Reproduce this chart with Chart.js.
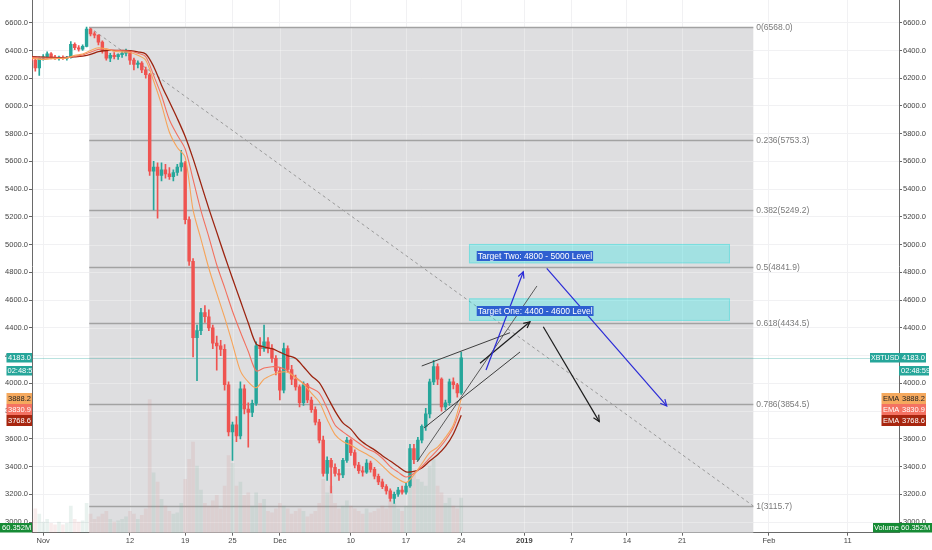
<!DOCTYPE html>
<html><head><meta charset="utf-8">
<script src="https://cdn.jsdelivr.net/npm/chart.js@4.4.1/dist/chart.umd.min.js"></script>
<style>html,body{margin:0;padding:0;background:#fff;overflow:hidden}#c{display:block}</style>
</head><body><canvas id="c" width="932" height="550"></canvas>
<script>
// x values are days since 2018-11-01 00:00 (XBTUSD, 12h candles)
const xTickDays   = [0,11,18,24,30,39,46,53,61,67,74,81,92,102];
const xTickLabels = ['Nov','12','19','25','Dec','10','17','24','2019','7','14','21','Feb','11'];
const yTickValues = [3000,3200,3400,3600,3800,4000,4200,4400,4600,4800,5000,5200,5400,5600,5800,6000,6200,6400,6600];

const candleDays = [
 -1.5,-1,-0.5,0,0.5,1,1.5,2,2.5,3,
 3.5,4,4.5,5,5.5,6,6.5,7,7.5,8,
 8.5,9,9.5,10,10.5,11,11.5,12,12.5,13,
 13.5,14,14.5,15,15.5,16,16.5,17,17.5,18,
 18.5,19,19.5,20,20.5,21,21.5,22,22.5,23,
 23.5,24,24.5,25,25.5,26,26.5,27,27.5,28,
 28.5,29,29.5,30,30.5,31,31.5,32,32.5,33,
 33.5,34,34.5,35,35.5,36,36.5,37,37.5,38,
 38.5,39,39.5,40,40.5,41,41.5,42,42.5,43,
 43.5,44,44.5,45,45.5,46,46.5,47,47.5,48,
 48.5,49,49.5,50,50.5,51,51.5,52,52.5,53];
const opens = [
 6345,6330,6275,6345,6355,6375,6350,6345,6350,6342,
 6350,6445,6420,6410,6430,6555,6520,6510,6460,6400,
 6345,6365,6355,6370,6380,6395,6330,6300,6310,6260,
 6225,5530,5560,5500,5540,5510,5490,5520,5560,5590,
 5180,4880,4330,4380,4510,4480,4400,4290,4270,4245,
 3990,3650,3700,3620,3960,3815,3790,3855,4270,4250,
 4300,4250,4180,4090,3950,4250,4100,4030,3975,3860,
 3990,3880,3810,3720,3590,3350,3445,3395,3350,3340,
 3445,3590,3500,3410,3370,3360,3425,3380,3330,3290,
 3255,3225,3170,3200,3230,3215,3260,3530,3450,3590,
 3690,3780,4010,4120,4030,3830,3860,4010,3990,3930];
const highs = [
 6365,6345,6355,6370,6390,6385,6365,6360,6362,6358,
 6465,6455,6435,6440,6568,6560,6535,6515,6470,6410,
 6380,6385,6375,6395,6410,6400,6345,6325,6320,6280,
 6235,5600,5590,5590,5580,5555,5540,5580,5680,5600,
 5200,4900,4420,4540,4560,4530,4420,4340,4310,4280,
 4010,3720,3760,4010,3990,3860,3880,4300,4330,4420,
 4330,4280,4200,4110,4290,4270,4130,4060,3990,4010,
 4000,3900,3830,3740,3620,3470,3460,3420,3380,3460,
 3610,3600,3520,3430,3400,3450,3440,3395,3345,3310,
 3270,3240,3215,3250,3260,3280,3560,3560,3610,3700,
 3820,4030,4165,4140,4040,3880,4030,4040,4000,4225];
const lows = [
 6310,6250,6220,6330,6345,6340,6335,6330,6335,6330,
 6345,6405,6395,6400,6425,6505,6490,6440,6380,6330,
 6320,6340,6335,6350,6360,6300,6260,6275,6240,6200,
 5500,5250,5190,5460,5480,5470,5460,5500,5530,5150,
 4850,4190,4020,4350,4440,4380,4250,4095,4200,3950,
 3620,3445,3580,3600,3780,3540,3760,3840,4200,4230,
 4220,4150,4060,3880,3930,4080,3990,3950,3830,3840,
 3860,3790,3700,3570,3330,3300,3210,3330,3300,3320,
 3430,3480,3390,3350,3330,3350,3360,3310,3270,3240,
 3200,3150,3135,3185,3200,3200,3250,3420,3440,3570,
 3660,3750,3990,3990,3800,3810,3840,3960,3900,3920];
const closes = [
 6330,6275,6345,6355,6375,6350,6345,6350,6342,6350,
 6445,6420,6410,6430,6555,6520,6510,6460,6400,6345,
 6365,6355,6370,6380,6395,6330,6300,6310,6260,6225,
 5530,5560,5500,5540,5510,5490,5520,5560,5590,5180,
 4880,4330,4380,4510,4480,4400,4290,4270,4245,3990,
 3650,3700,3620,3960,3815,3790,3855,4270,4250,4300,
 4250,4180,4090,3950,4250,4100,4030,3975,3860,3990,
 3880,3810,3720,3590,3350,3445,3395,3350,3340,3445,
 3590,3500,3410,3370,3360,3425,3380,3330,3290,3255,
 3225,3170,3200,3230,3215,3260,3530,3450,3590,3690,
 3780,4010,4120,4030,3830,3860,4010,3990,3930,4183];
const volumes = [
 10,18,14,8,10,7,6,8,6,7,
 20,10,8,9,22,14,10,12,14,16,
 10,8,9,10,12,16,14,10,13,18,
 100,45,38,25,20,16,14,15,22,40,
 55,68,50,32,22,20,24,28,18,35,
 58,52,35,38,28,30,20,30,22,25,
 16,15,18,22,20,18,14,16,18,16,
 12,14,16,22,40,30,35,22,18,20,
 24,20,18,16,14,18,15,16,18,20,
 18,24,22,18,16,20,52,45,40,38,
 35,50,55,35,30,22,26,20,18,26];

const emaDays = [-1.4,0,1,2,3,4,5,6,7,8,9,10,11,12,13,14,15,16,17,18,19,20,21,22,23,24,25,26,27,28,29,30,31,32,33,34,35,36,37,38,39,40,41,42,43,44,45,46,47,48,49,50,51,52,53];
const emaFast = [6345,6335,6340,6342,6345,6365,6375,6400,6420,6410,6395,6390,6385,6365,6330,
 6180,6010,5810,5700,5630,5250,5040,4830,4650,4475,
 4285,4090,4010,3968,4030,4060,4080,4080,4040,3995,
 3930,3865,3740,3630,3580,3555,3520,3490,3455,3405,
 3350,3310,3285,3340,3420,3500,3540,3610,3700,3888];
const emaMid = [6350,6345,6345,6345,6348,6358,6368,6388,6408,6410,6402,6398,6394,6380,6355,
 6220,6075,5900,5790,5690,5470,5245,5055,4855,4690,
 4520,4370,4230,4090,4110,4120,4115,4090,4045,4000,
 3965,3930,3820,3700,3650,3610,3570,3530,3505,3460,
 3400,3360,3325,3350,3400,3460,3520,3590,3680,3831];
const emaSlow = [6355,6352,6350,6348,6350,6354,6360,6372,6392,6400,6400,6400,6398,6390,6375,
 6285,6150,6030,5910,5780,5620,5440,5260,5090,4920,
 4756,4595,4435,4285,4262,4250,4225,4200,4180,4120,
 4055,4005,3905,3800,3715,3670,3600,3555,3520,3478,
 3440,3400,3362,3365,3390,3440,3485,3545,3635,3769];

const fibRatios = [0,0.236,0.382,0.5,0.618,0.786,1];
const fibPrices = [6568.0,5753.3,5249.2,4841.9,4434.5,3854.5,3115.7];
const fibDays = [5.84, 90.03];

const lastPrice = 4183.0;
const countdown = '02:48:59';
const emaLast = [3888.2, 3830.9, 3768.6];
const volumeLast = '60.352M';
const symbol = 'XBTUSD';

const targetDays = [53.98, 87.07];
const targetRanges = [[4865, 5005], [4450, 4613]];
const targetLabels = ['Target Two: 4800 - 5000 Level', 'Target One: 4400 - 4600 Level'];
const targetLabelAt = [[55.09, 4920], [55.09, 4522]];

const wedgeLines = [[[47.99,4125],[59.18,4365]], [[47.39,3433],[62.6,4702]], [[48.28,3678],[60.45,4226]]];
const blackArrows = [[[55.38,4145],[61.72,4444]], [[63.4,4408],[70.5,3724]]];
const blueArrows  = [[[56.14,4096],[60.87,4805]], [[63.84,4829],[79.05,3837]]];

// ---- styling ----
const UP = '#26a69a', DN = '#ef5350';
const EMA_COL = ['#f6a45a', '#f2705f', '#9c2410'];
const TAG_COL = ['#f5a95e', '#f47262', '#a8260f'];
const FONT = '"Liberation Sans", Arial, sans-serif';

const candleCol = opens.map((o,i) => closes[i] >= o ? UP : DN);
const volCol = opens.map((o,i) => closes[i] >= o ? 'rgba(110,170,150,0.15)' : 'rgba(210,130,130,0.15)');

function arrow(ctx, a, b, color) {
  ctx.strokeStyle = color; ctx.lineWidth = 1.2;
  ctx.beginPath(); ctx.moveTo(a[0], a[1]); ctx.lineTo(b[0], b[1]); ctx.stroke();
  const ang = Math.atan2(b[1]-a[1], b[0]-a[0]), L = 7, s = 0.45;
  ctx.beginPath();
  ctx.moveTo(b[0]-L*Math.cos(ang-s), b[1]-L*Math.sin(ang-s));
  ctx.lineTo(b[0], b[1]);
  ctx.lineTo(b[0]-L*Math.cos(ang+s), b[1]-L*Math.sin(ang+s));
  ctx.stroke();
}
function tag(ctx, x, yc, w, h, bg, fg, text, pad, size) {
  const top = Math.round(yc - h/2);
  ctx.save();
  ctx.fillStyle = bg; ctx.fillRect(x, top, w, h);
  ctx.beginPath(); ctx.rect(x, top, w, h); ctx.clip();
  ctx.fillStyle = fg; ctx.textAlign = 'left'; ctx.textBaseline = 'middle';
  ctx.font = (size || 7.5) + 'px ' + FONT;
  ctx.fillText(text, x + (pad == null ? 1.5 : pad), top + h/2 + 0.5);
  ctx.restore();
}

const overlay = {
  id: 'overlay',
  beforeDatasetsDraw(chart) {
    const {ctx, chartArea: a, scales: {x, y}} = chart;
    ctx.save();
    ctx.beginPath(); ctx.rect(a.left, a.top, a.right-a.left, a.bottom-a.top); ctx.clip();
    const x0 = x.getPixelForValue(fibDays[0]), x1 = x.getPixelForValue(fibDays[1]);
    const yTop = y.getPixelForValue(fibPrices[0]);
    ctx.fillStyle = '#dedee0';
    ctx.fillRect(x0, yTop, x1-x0, a.bottom-yTop);
    // faint grid over grey
    ctx.strokeStyle = 'rgba(255,255,255,0.3)'; ctx.lineWidth = 1;
    xTickDays.forEach(d => { const px = Math.round(x.getPixelForValue(d))+0.5; if (px>x0 && px<x1){ctx.beginPath(); ctx.moveTo(px, yTop); ctx.lineTo(px, a.bottom); ctx.stroke();}});
    yTickValues.forEach(v => { const py = Math.round(y.getPixelForValue(v))+0.5; if (py>yTop){ctx.beginPath(); ctx.moveTo(x0, py); ctx.lineTo(x1, py); ctx.stroke();}});
    // fib levels
    ctx.strokeStyle = '#a2a2a2'; ctx.lineWidth = 1.3;
    ctx.font = '8.5px ' + FONT; ctx.fillStyle = '#7a7a7a'; ctx.textBaseline = 'middle'; ctx.textAlign = 'left';
    fibPrices.forEach((p, i) => {
      const py = Math.round(y.getPixelForValue(p)) + 0.5;
      ctx.beginPath(); ctx.moveTo(x0, py); ctx.lineTo(x1, py); ctx.stroke();
      ctx.fillText(String(fibRatios[i]) + '(' + p.toFixed(1) + ')', x1 + 3, py + 0.5);
    });
    // fib trend (dashed)
    ctx.setLineDash([3, 3]); ctx.strokeStyle = '#9a9a9a'; ctx.lineWidth = 1;
    ctx.beginPath(); ctx.moveTo(x0, yTop); ctx.lineTo(x1, y.getPixelForValue(fibPrices[6])); ctx.stroke();
    ctx.setLineDash([]);
    // last price line
    const lp = Math.round(y.getPixelForValue(lastPrice)) + 0.5;
    ctx.strokeStyle = 'rgba(38,166,154,0.32)'; ctx.lineWidth = 1;
    ctx.beginPath(); ctx.moveTo(a.left, lp); ctx.lineTo(a.right, lp); ctx.stroke();
    ctx.restore();
  },
  afterDatasetsDraw(chart) {
    const {ctx, chartArea: a, scales: {x, y}} = chart;
    const P = pt => [x.getPixelForValue(pt[0]), y.getPixelForValue(pt[1])];
    ctx.save();
    ctx.beginPath(); ctx.rect(a.left, a.top, a.right-a.left, a.bottom-a.top); ctx.clip();
    // target boxes
    const bx0 = x.getPixelForValue(targetDays[0]), bx1 = x.getPixelForValue(targetDays[1]);
    targetRanges.forEach(r => {
      const t = y.getPixelForValue(r[1]), b = y.getPixelForValue(r[0]);
      ctx.fillStyle = 'rgba(0,232,232,0.27)';
      ctx.fillRect(bx0, t, bx1-bx0, b-t);
      ctx.strokeStyle = 'rgba(0,210,210,0.25)'; ctx.lineWidth = 1;
      ctx.strokeRect(bx0+0.5, t+0.5, bx1-bx0-1, b-t-1);
    });
    // wedge lines
    ctx.lineWidth = 1;
    wedgeLines.forEach((l, i) => {
      const p1 = P(l[0]), p2 = P(l[1]);
      ctx.strokeStyle = i === 1 ? '#5a5a5a' : '#3e3e3e';
      ctx.beginPath(); ctx.moveTo(p1[0], p1[1]); ctx.lineTo(p2[0], p2[1]); ctx.stroke();
    });
    blackArrows.forEach(l => arrow(ctx, P(l[0]), P(l[1]), '#1c1c1c'));
    blueArrows.forEach(l => arrow(ctx, P(l[0]), P(l[1]), '#2a2ad6'));
    // labels
    ctx.font = '8.5px ' + FONT; ctx.textBaseline = 'middle'; ctx.textAlign = 'left';
    targetLabels.forEach((s, i) => {
      const p = P(targetLabelAt[i]);
      const w = ctx.measureText(s).width;
      ctx.fillStyle = '#2e5fd0';
      ctx.fillRect(p[0]-1, Math.round(p[1]-5), w+2, 10);
      ctx.fillStyle = '#ffffff';
      ctx.fillText(s, p[0], p[1]+0.5);
    });
    ctx.restore();
  },
  afterDraw(chart) {
    const {ctx, chartArea: a, scales: {y}} = chart;
    const h = 11;
    const lp = y.getPixelForValue(lastPrice);
    // right side
    tag(ctx, 870, lp, 29, 9.5, UP, '#fff', symbol, 1, 7);
    tag(ctx, 899, lp, 27, 9.5, UP, '#fff', lastPrice.toFixed(1), 3);
    tag(ctx, 899, lp + 13, 30, 9.5, UP, '#fff', countdown, 2);
    // left side
    tag(ctx, 6.5, lp, 25.5, 9.5, UP, '#fff', lastPrice.toFixed(1), 1.5);
    tag(ctx, 6.5, lp + 13, 25.5, 9.5, UP, '#fff', countdown, 1);
    let prev = -1e9;
    emaLast.forEach((v, i) => {
      let yc = y.getPixelForValue(v);
      if (yc < prev + h) yc = prev + h;
      prev = yc;
      const fg = i === 0 ? '#222' : '#fff';
      tag(ctx, 6.5, yc, 25.5, h, TAG_COL[i], fg, v.toFixed(1), 1.5);
      tag(ctx, 881.5, yc, 17.5, h, TAG_COL[i], fg, 'EMA', 1.5);
      tag(ctx, 899, yc, 27, h, TAG_COL[i], fg, v.toFixed(1), 3);
    });
    const vy = a.bottom - 5;
    tag(ctx, 0, vy, 32, 9.5, '#168b35', '#fff', volumeLast, 2);
    tag(ctx, 873, vy, 26, 9.5, '#168b35', '#fff', 'Volume', 1);
    tag(ctx, 899, vy, 33, 9.5, '#168b35', '#fff', volumeLast, 2);
  }
};

const yScaleBase = {
  type: 'linear', min: 2923, max: 6764,
  afterBuildTicks(s) { s.ticks = yTickValues.map(v => ({value: v})); },
};

new Chart(document.getElementById('c'), {
  type: 'bar',
  data: {
    datasets: [
      { type: 'line', label: 'EMA fast', data: emaDays.map((d,i) => ({x: d, y: emaFast[i]})), borderColor: EMA_COL[0], borderWidth: 1.1, pointRadius: 0, tension: 0.3, order: 1 },
      { type: 'line', label: 'EMA mid', data: emaDays.map((d,i) => ({x: d, y: emaMid[i]})), borderColor: EMA_COL[1], borderWidth: 1.1, pointRadius: 0, tension: 0.3, order: 1 },
      { type: 'line', label: 'EMA slow', data: emaDays.map((d,i) => ({x: d, y: emaSlow[i]})), borderColor: EMA_COL[2], borderWidth: 1.3, pointRadius: 0, tension: 0.3, order: 1 },
      { label: 'bodies', data: candleDays.map((d,i) => ({x: d, y: [opens[i], closes[i]]})), backgroundColor: candleCol, barThickness: 2.8, minBarLength: 1, grouped: false, borderWidth: 0, borderSkipped: false, order: 3 },
      { label: 'wicks', data: candleDays.map((d,i) => ({x: d, y: [lows[i], highs[i]]})), backgroundColor: candleCol, barThickness: 1, grouped: false, borderWidth: 0, borderSkipped: false, order: 4 },
      { label: 'volume', yAxisID: 'yv', data: candleDays.map((d,i) => ({x: d, y: volumes[i]})), backgroundColor: volCol, barThickness: 3, grouped: false, borderWidth: 0, order: 5 },
    ]
  },
  options: {
    responsive: false, animation: false, devicePixelRatio: 1,
    layout: { padding: 0 },
    plugins: { legend: { display: false }, tooltip: { enabled: false } },
    scales: {
      x: {
        type: 'linear', min: -1.42, max: 108.5, offset: false,
        grid: { color: '#f1f1f3', offset: false, tickLength: 3, tickColor: '#666' },
        border: { color: '#6a6a6a' },
        afterBuildTicks(s) { s.ticks = xTickDays.map(v => ({value: v})); },
        afterFit(s) { s.height = 17.3; s.paddingLeft = 0; s.paddingRight = 0; },
        ticks: {
          autoSkip: false, maxRotation: 0, padding: 1, color: '#444',
          font: ctx => ({ family: FONT, size: 7.5, weight: ctx.index === xTickLabels.indexOf('2019') ? 'bold' : 'normal' }),
          callback: (v, i) => xTickLabels[i]
        }
      },
      y: Object.assign({}, yScaleBase, {
        position: 'left',
        grid: { color: '#f1f1f3', tickLength: 3, tickColor: '#666' },
        border: { color: '#6a6a6a' },
        afterFit(s) { s.width = 32; s.paddingTop = 0; s.paddingBottom = 0; },
        ticks: { padding: 1, color: '#444', font: { family: FONT, size: 7.5 }, callback: v => Number(v).toFixed(1) }
      }),
      yR: Object.assign({}, yScaleBase, {
        position: 'right',
        grid: { drawOnChartArea: false, tickLength: 3, tickColor: '#666' },
        border: { color: '#6a6a6a' },
        afterFit(s) { s.width = 33; s.paddingTop = 0; s.paddingBottom = 0; },
        ticks: { padding: 1, color: '#444', font: { family: FONT, size: 7.5 }, callback: v => Number(v).toFixed(1) }
      }),
      yv: { type: 'linear', display: false, min: 0, max: 400 }
    }
  },
  plugins: [overlay]
});
</script>
</body></html>
